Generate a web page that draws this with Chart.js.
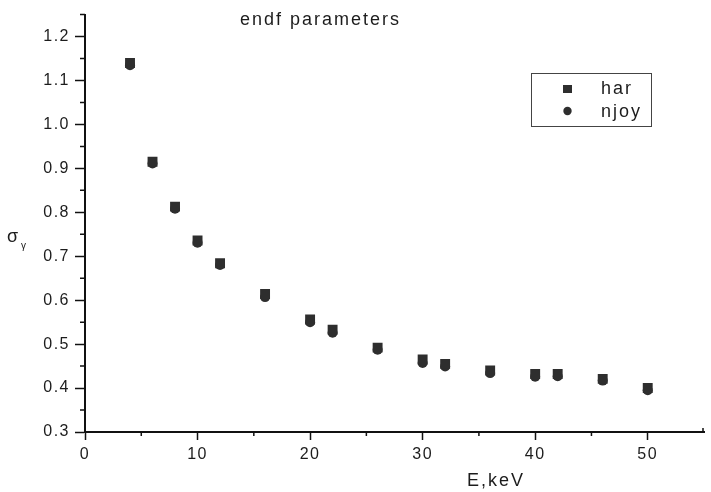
<!DOCTYPE html>
<html>
<head>
<meta charset="utf-8">
<script src="https://cdn.jsdelivr.net/npm/chart.js@4.4.1/dist/chart.umd.min.js"></script>
<style>
  html, body { margin: 0; padding: 0; background: #fff; }
  #c { display: block; }
</style>
</head>
<body>
<canvas id="c" width="711" height="492"></canvas>
<script>
// ---- data ----
const energies = [4, 6, 8, 10, 12, 16, 20, 22, 26, 30, 32, 36, 40, 42, 46, 50];
const harValues = [1.140, 0.915, 0.813, 0.736, 0.684, 0.614, 0.556, 0.533, 0.492, 0.465, 0.455, 0.440, 0.432, 0.432, 0.421, 0.400];
const njoyValues = [1.135, 0.911, 0.808, 0.731, 0.680, 0.607, 0.550, 0.526, 0.487, 0.457, 0.449, 0.434, 0.426, 0.427, 0.417, 0.395];
const seriesNames = ['har', 'njoy'];
const xMajorTicks = [0, 10, 20, 30, 40, 50];
const xMinorTicks = [5, 15, 25, 35, 45];
const yMajorTicks = [0.3, 0.4, 0.5, 0.6, 0.7, 0.8, 0.9, 1.0, 1.1, 1.2];
const yMinorTicks = [0.35, 0.45, 0.55, 0.65, 0.75, 0.85, 0.95, 1.05, 1.15, 1.25];
const chartTitle = 'endf parameters';
const xTitle = 'E,keV';

const FONT = '"Liberation Sans", Arial, sans-serif';
const INK = '#1c1c1c';
const MARK = '#2e2e2e';

const spacingPlugin = {
  id: 'spacing',
  beforeLayout(chart) { chart.ctx.letterSpacing = '1.5px'; },
  beforeDraw(chart) { chart.ctx.letterSpacing = '1.5px'; }
};

const decorPlugin = {
  id: 'decor',
  afterDraw(chart) {
    const ctx = chart.ctx;
    const xs = chart.scales.x, ys = chart.scales.y;
    ctx.save();
    // minor ticks
    ctx.strokeStyle = '#111';
    ctx.lineWidth = 1.5;
    ctx.beginPath();
    xMinorTicks.forEach(v => {
      const px = xs.getPixelForValue(v);
      ctx.moveTo(px, xs.top);
      ctx.lineTo(px, xs.top + 4);
    });
    yMinorTicks.forEach(v => {
      const py = ys.getPixelForValue(v);
      ctx.moveTo(ys.right, py);
      ctx.lineTo(ys.right - 5, py);
    });
    const xe = xs.getPixelForValue(55);
    ctx.moveTo(xe - 1, xs.top);
    ctx.lineTo(xe - 1, xs.top - 4);
    ctx.stroke();

    ctx.fillStyle = INK;
    // title
    ctx.letterSpacing = '2px';
    ctx.font = '18px ' + FONT;
    ctx.textAlign = 'left';
    ctx.textBaseline = 'middle';
    ctx.fillText(chartTitle, 240, 20);
    // x title
    ctx.font = '18px ' + FONT;
    ctx.fillText(xTitle, 467, 481);
    // y title  sigma_gamma
    ctx.letterSpacing = '0px';
    ctx.font = '18px ' + FONT;
    ctx.fillText('σ', 7, 237);
    ctx.font = '10px ' + FONT;
    ctx.fillText('γ', 21, 246);

    // legend
    ctx.strokeStyle = '#444';
    ctx.lineWidth = 1;
    ctx.strokeRect(531.5, 73.5, 120, 53);
    ctx.fillStyle = MARK;
    ctx.fillRect(563, 85, 9, 8);
    ctx.beginPath();
    ctx.arc(567.5, 111, 4.2, 0, Math.PI * 2);
    ctx.fill();
    ctx.fillStyle = INK;
    ctx.letterSpacing = '2px';
    ctx.font = '18px ' + FONT;
    ctx.fillText(seriesNames[0], 601, 89);
    ctx.fillText(seriesNames[1], 601, 112);
    ctx.restore();
  }
};

new Chart(document.getElementById('c'), {
  type: 'scatter',
  data: {
    datasets: [
      {
        label: seriesNames[0],
        data: energies.map((e, i) => ({ x: e, y: harValues[i] })),
        pointStyle: 'rect',
        pointRadius: 7,
        pointHoverRadius: 7,
        backgroundColor: MARK,
        borderColor: MARK,
        borderWidth: 0
      },
      {
        label: seriesNames[1],
        data: energies.map((e, i) => ({ x: e, y: njoyValues[i] })),
        pointStyle: 'circle',
        pointRadius: 5,
        pointHoverRadius: 5,
        backgroundColor: MARK,
        borderColor: MARK,
        borderWidth: 0
      }
    ]
  },
  options: {
    responsive: false,
    animation: false,
    devicePixelRatio: 1,
    layout: { padding: { top: 13, right: 1, left: 0, bottom: 0 } },
    plugins: {
      legend: { display: false },
      title: { display: false },
      tooltip: { enabled: false }
    },
    events: [],
    scales: {
      x: {
        type: 'linear',
        min: 0,
        max: 55,
        afterFit(s) { s.height = 60; },
        afterBuildTicks(s) { s.ticks = xMajorTicks.map(v => ({ value: v })); },
        ticks: {
          color: INK,
          font: { family: FONT, size: 16 },
          padding: 5,
          maxRotation: 0,
          autoSkip: false,
          callback: v => String(v)
        },
        grid: {
          drawOnChartArea: false,
          drawTicks: true,
          tickLength: 8,
          tickWidth: 1.5,
          tickColor: '#111'
        },
        border: { display: true, color: '#111', width: 2 }
      },
      y: {
        type: 'linear',
        min: 0.3,
        max: 1.25,
        afterFit(s) { s.width = 85; },
        afterBuildTicks(s) { s.ticks = yMajorTicks.map(v => ({ value: v })); },
        ticks: {
          color: INK,
          font: { family: FONT, size: 16 },
          padding: 5,
          autoSkip: false,
          callback: v => Number(v).toFixed(1)
        },
        grid: {
          drawOnChartArea: false,
          drawTicks: true,
          tickLength: 10,
          tickWidth: 1.5,
          tickColor: '#111'
        },
        border: { display: true, color: '#111', width: 2 }
      }
    }
  },
  plugins: [spacingPlugin, decorPlugin]
});
</script>
</body>
</html>
